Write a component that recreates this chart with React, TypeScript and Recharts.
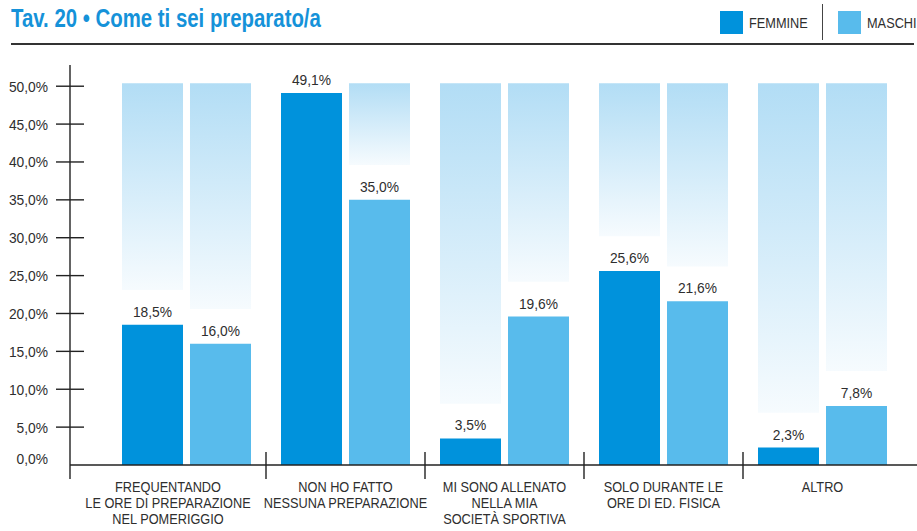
import React from "react";
import { BarChart, Bar, XAxis, YAxis, LabelList } from "recharts";

// no condensed face is installed, so Liberation Sans is squeezed horizontally
const FONT = '"Liberation Sans", Arial, sans-serif';
const WORD_SCALE = 0.85;
const NUM_SCALE = 0.92;
const INK = "#2e2e2e";
const FEMMINE_COLOR = "#0092dc";
const MASCHI_COLOR = "#58bbec";
const PAD_LEFT = 37;

// categories, one entry per line of the axis label
const CATEGORIES = [
  ["FREQUENTANDO", "LE ORE DI PREPARAZIONE", "NEL POMERIGGIO"],
  ["NON HO FATTO", "NESSUNA PREPARAZIONE"],
  ["MI SONO ALLENATO", "NELLA MIA", "SOCIETÀ SPORTIVA"],
  ["SOLO DURANTE LE", "ORE DI ED. FISICA"],
  ["ALTRO"],
];
const FEMMINE = [18.5, 49.1, 3.5, 25.6, 2.3];
const MASCHI = [16.0, 35.0, 19.6, 21.6, 7.8];
const Y_TICKS = [0, 5, 10, 15, 20, 25, 30, 35, 40, 45, 50];

// pale backdrop column behind every bar, fading out a little above the value
const GHOST_TOP = 50.4;
const GHOST_GAP = 4.6;

const gapOf = (v: number) => Math.max(0, Math.min(GHOST_GAP, GHOST_TOP - v));
const ghostOf = (v: number) => Math.max(0, GHOST_TOP - v - GHOST_GAP);

const data = CATEGORIES.map((lines, i) => ({
  name: lines.join(" "),
  f: FEMMINE[i],
  fGap: gapOf(FEMMINE[i]),
  fGhost: ghostOf(FEMMINE[i]),
  m: MASCHI[i],
  mGap: gapOf(MASCHI[i]),
  mGhost: ghostOf(MASCHI[i]),
}));

const pct = (v: number) => v.toFixed(1).replace(".", ",") + "%";

function SText({ x, y, s, anchor = "middle", children }: any) {
  return (
    <text
      transform={`translate(${x},${y}) scale(${s},1)`}
      textAnchor={anchor}
      fontFamily={FONT}
      fontSize={15}
      fill={INK}
    >
      {children}
    </text>
  );
}

function YTick(props: any) {
  const { x, y, payload } = props;
  const v = payload.value as number;
  return (
    <g>
      {v !== 0 ? (
        <line x1={x - 14} x2={x + 14} y1={y} y2={y} stroke="#222" strokeWidth={1.4} />
      ) : (
        <line x1={x} x2={x} y1={y} y2={y + 14} stroke="#222" strokeWidth={1.4} />
      )}
      <SText x={x - 22} y={(v === 0 ? y - 7 : y) + 5.5} s={NUM_SCALE} anchor="end">
        {pct(v)}
      </SText>
    </g>
  );
}

function XTick(props: any) {
  const { x, y, payload, index } = props;
  const half = payload.offset ?? 79.5;
  const lines: string[] = CATEGORIES[index] ?? [String(payload.value)];
  // the first label sits centred between the y axis and the first divider
  const cx = index === 0 ? x - PAD_LEFT / 2 : x;
  return (
    <g>
      {index > 0 && (
        <line x1={x - half} x2={x - half} y1={y - 13} y2={y + 14} stroke="#222" strokeWidth={1.4} />
      )}
      {lines.map((l, i) => (
        <SText key={i} x={cx} y={y + 27 + i * 16} s={WORD_SCALE}>
          {l}
        </SText>
      ))}
    </g>
  );
}

function ValueLabel(props: any) {
  const { x, y, width, value } = props;
  return (
    <SText x={x + width / 2} y={y - 8} s={NUM_SCALE}>
      {pct(Number(value))}
    </SText>
  );
}

function Legend() {
  const item = (color: string, label: string, left: number) => (
    <div style={{ position: "absolute", left, top: 11, display: "flex", alignItems: "center" }}>
      <div style={{ width: 23, height: 23, background: color }} />
      <span
        style={{
          marginLeft: 6,
          fontFamily: FONT,
          fontSize: 15,
          color: INK,
          transform: `scaleX(${WORD_SCALE})`,
          transformOrigin: "left center",
          whiteSpace: "nowrap",
        }}
      >
        {label}
      </span>
    </div>
  );
  return (
    <>
      {item(FEMMINE_COLOR, "FEMMINE", 720)}
      <div style={{ position: "absolute", left: 822, top: 4, width: 1, height: 36, background: "#444" }} />
      {item(MASCHI_COLOR, "MASCHI", 838)}
    </>
  );
}

export default function App() {
  return (
    <div style={{ position: "relative", width: 917, height: 531, background: "#fff", overflow: "hidden" }}>
      <style>{`body{margin:0}`}</style>
      <div
        style={{
          position: "absolute",
          left: 11,
          top: 4,
          fontFamily: FONT,
          fontWeight: 700,
          fontSize: 25,
          color: "#1592d9",
          whiteSpace: "nowrap",
          transform: "scaleX(0.815)",
          transformOrigin: "left center",
        }}
      >
        Tav. 20 • Come ti sei preparato/a
      </div>
      <Legend />
      <div style={{ position: "absolute", left: 11, top: 43, width: 903, height: 2, background: "#333" }} />
      <BarChart
        width={917}
        height={531}
        data={data}
        margin={{ top: 65, right: 0, left: 0, bottom: 0 }}
        barCategoryGap={15}
        barGap={7}
      >
        <defs>
          <linearGradient id="ghost" x1="0" y1="0" x2="0" y2="1">
            <stop offset="0%" stopColor="#b2ddf5" />
            <stop offset="100%" stopColor="#f6fbfe" />
          </linearGradient>
        </defs>
        <XAxis
          dataKey="name"
          height={66}
          interval={0}
          padding={{ left: PAD_LEFT, right: 15 }}
          axisLine={{ stroke: "#222", strokeWidth: 1.4 }}
          tickLine={false}
          tickSize={0}
          tickMargin={0}
          tick={<XTick />}
        />
        <YAxis
          width={70}
          domain={[0, 52.8]}
          ticks={Y_TICKS}
          interval={0}
          axisLine={{ stroke: "#222", strokeWidth: 1.4 }}
          tickLine={false}
          tickSize={0}
          tickMargin={0}
          tick={<YTick />}
        />
        <Bar dataKey="f" stackId="f" fill={FEMMINE_COLOR} isAnimationActive={false}>
          <LabelList dataKey="f" content={<ValueLabel />} />
        </Bar>
        <Bar dataKey="fGap" stackId="f" fill="transparent" isAnimationActive={false} />
        <Bar dataKey="fGhost" stackId="f" fill="url(#ghost)" isAnimationActive={false} />
        <Bar dataKey="m" stackId="m" fill={MASCHI_COLOR} isAnimationActive={false}>
          <LabelList dataKey="m" content={<ValueLabel />} />
        </Bar>
        <Bar dataKey="mGap" stackId="m" fill="transparent" isAnimationActive={false} />
        <Bar dataKey="mGhost" stackId="m" fill="url(#ghost)" isAnimationActive={false} />
      </BarChart>
    </div>
  );
}
